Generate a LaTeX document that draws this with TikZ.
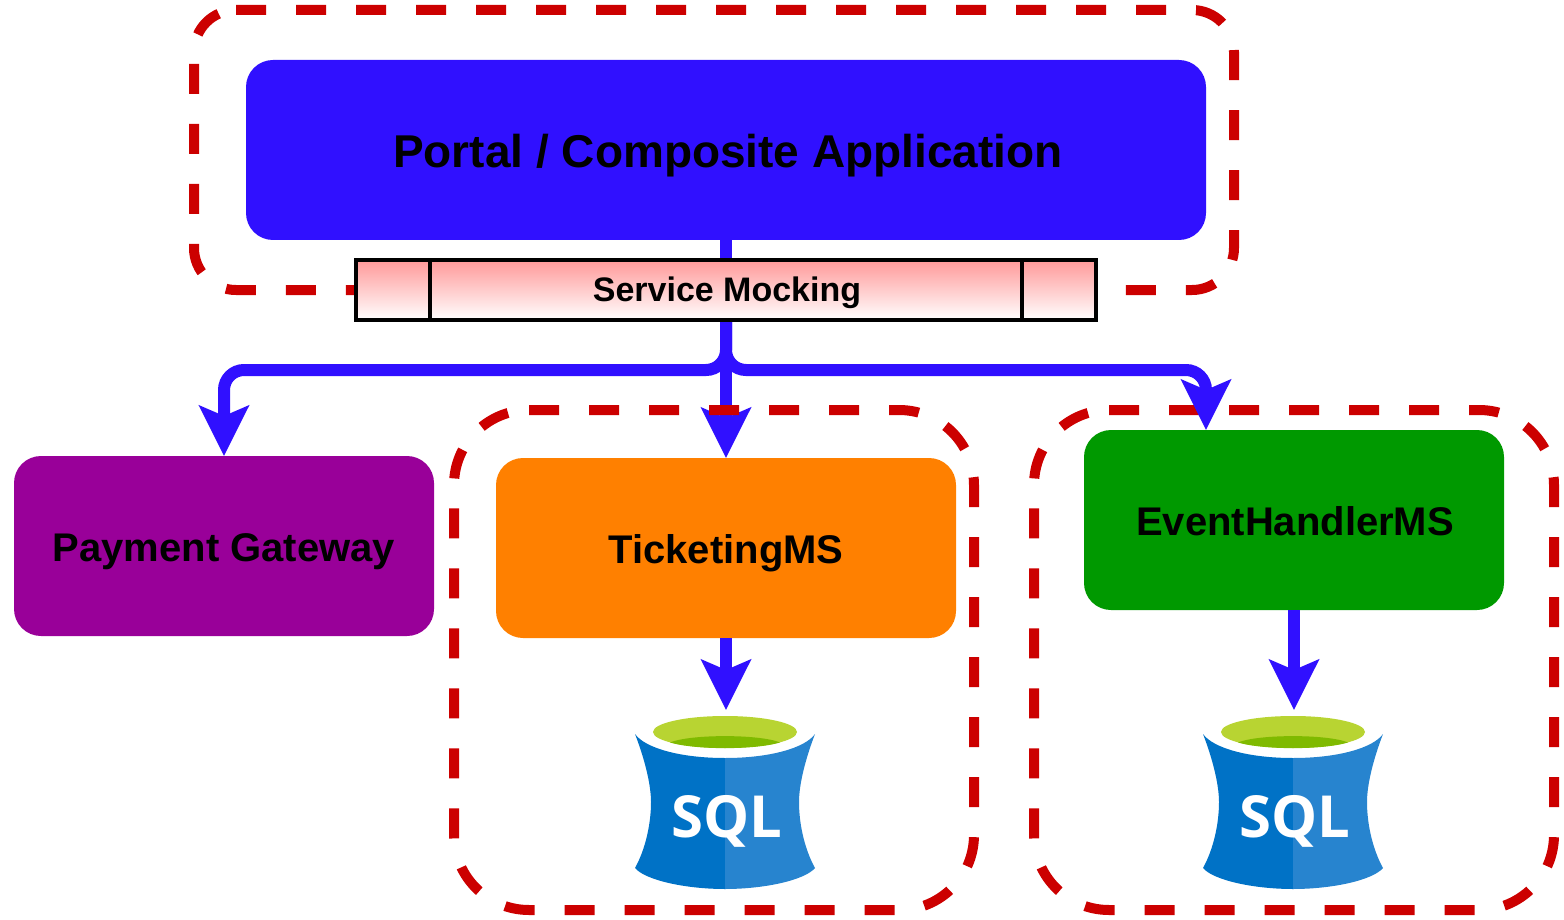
\documentclass[tikz,border=0pt]{standalone}
\usepackage{fontspec}
\setmainfont{Liberation Sans}
\newfontfamily\sqlfont{Open Sans}
\usetikzlibrary{arrows.meta}
\definecolor{flowblue}{HTML}{3010FF}
\definecolor{framered}{HTML}{CC0000}
\definecolor{paypurple}{HTML}{990099}
\definecolor{ticketorange}{HTML}{FF8000}
\definecolor{eventgreen}{HTML}{009900}
\definecolor{mockpink}{HTML}{FF9999}
\definecolor{sqldark}{HTML}{0072C6}
\definecolor{sqllight}{HTML}{2784CF}
\definecolor{sqllime}{HTML}{B8D432}
\definecolor{sqlgreen}{HTML}{7FBA00}
% left, top, right, bottom, corner
\newcommand{\groupframe}[5]{
  \draw[frame] (#1+#5,#2) -- (#3-#5,#2) .. controls (#3-.4477*#5,#2) and (#3,#2+.4477*#5) .. (#3,#2+#5)
    -- (#3,#4-#5) .. controls (#3,#4-.4477*#5) and (#3-.4477*#5,#4) .. (#3-#5,#4)
    -- (#1+#5,#4) .. controls (#1+.4477*#5,#4) and (#1,#4-.4477*#5) .. (#1,#4-#5)
    -- (#1,#2+#5) .. controls (#1,#2+.4477*#5) and (#1+.4477*#5,#2) .. (#1+#5,#2);
}
\tikzset{
  boldtext/.style={text height=#1*0.76pt,text depth=0pt,font=\bfseries\fontsize{#1}{#1}\selectfont},
  msbox/.style={inner sep=0pt,outer sep=0pt,rounded corners=27pt,minimum height=180pt,boldtext=#1},
  frame/.style={draw=framered,line width=10pt,dash pattern=on 30pt off 30pt},
  flow/.style={draw=flowblue,line width=12pt,-{Stealth[length=50pt,width=49pt,inset=10pt]}},
  sqldb/.pic={
    \fill[sqldark] (0,42) .. controls (-45,42) and (-80,32) .. (-90,18) .. controls (-80,44) and (-74,69) .. (-74,86) .. controls (-74,109) and (-80,134) .. (-90,152) .. controls (-80,164) and (-40,173) .. (0,173) -- cycle;
    \fill[sqllight] (0,42) .. controls (45,42) and (80,32) .. (90,18) .. controls (80,44) and (74,69) .. (74,86) .. controls (74,109) and (80,134) .. (90,152) .. controls (80,164) and (40,173) .. (0,173) -- cycle;
    \fill[sqllime] (0,16) ellipse [x radius=72,y radius=16];
    \fill[sqlgreen] (-55,26.5) .. controls (-35,18) and (35,18) .. (55,26.5) .. controls (30,34) and (-30,34) .. (-55,26.5) -- cycle;
    \node[white,inner sep=0pt,anchor=base,font=\sqlfont\bfseries\fontsize{58}{58}\selectfont] (-text) at (1.5,121) {SQL};
  }
}
\begin{document}
\begin{tikzpicture}[x=1pt,y=-1pt]
\useasboundingbox (0,0) rectangle (1564,920);

% top frame
\groupframe{194}{10}{1234}{290}{42}

\node[msbox=46,fill=flowblue,minimum width=960pt] (portal) at (726,150) {\hspace*{4pt}Portal / Composite Application};
\node[msbox=40,fill=paypurple,minimum width=420pt] (payment) at (224,546) {Payment Gateway};
\node[msbox=40,fill=ticketorange,minimum width=460pt] (ticketing) at (726,548) {TicketingMS};
\node[msbox=40,fill=eventgreen,minimum width=420pt] (event) at (1294,520) {\hspace*{2pt}EventHandlerMS};

\coordinate (eventin) at (1206,430);
\coordinate (sqlin1) at (726,710);
\coordinate (sqlin2) at (1294,710);

\draw[flowblue,line width=12pt] (portal.south) -- (726,262);

\node[draw=black,line width=4pt,inner sep=0pt,outer sep=0pt,top color=mockpink,bottom color=white,minimum width=740pt,minimum height=60pt,boldtext=34,text height=22.5pt] (mocking) at (726,290) {\hspace*{2pt}Service Mocking};
\draw[line width=4pt] ([xshift=74pt]mocking.north west) -- ([xshift=74pt]mocking.south west)
  ([xshift=-74pt]mocking.north east) -- ([xshift=-74pt]mocking.south east);

% calls out of the mock
\draw[flow,rounded corners=20pt,shorten <=2pt] (mocking.south) -- ++(0,50) -| (payment.north);
\path (mocking.south) edge[flow,shorten <=2pt] (ticketing.north);

% service frames
\groupframe{454}{410}{974}{910}{75}
\groupframe{1034}{410}{1554}{910}{75}

\draw[flow,rounded corners=20pt,shorten <=2pt] (mocking.south) -- ++(0,50) -| (eventin);
\path (ticketing.south) edge[flow] (sqlin1)
      (event.south) edge[flow] (sqlin2);

\pic (sqlone) at (725,716) {sqldb};
\pic (sqltwo) at (1293,716) {sqldb};
\end{tikzpicture}
\end{document}
